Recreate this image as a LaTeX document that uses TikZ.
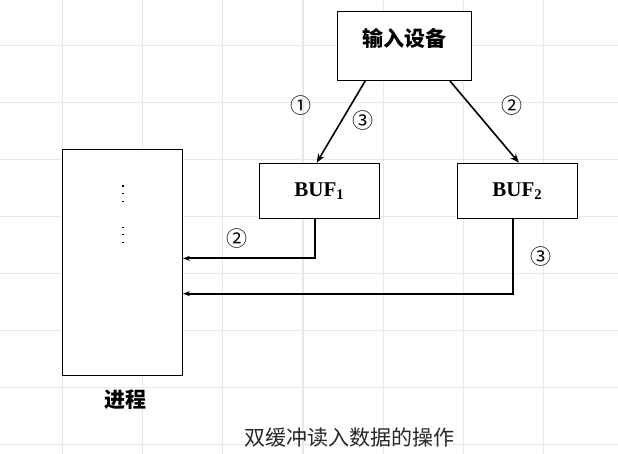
\documentclass[tikz,border=0pt]{standalone}
\usepackage{fontspec}
\setmainfont{Liberation Serif}
\newfontfamily\cjk{Noto Sans CJK SC}
\usetikzlibrary{arrows.meta}
\begin{document}
\begin{tikzpicture}[x=1pt,y=-1pt,
  box/.style={draw=black,line width=1.2pt,inner sep=0pt,fill=white},
  gridline/.style={draw={rgb,255:red,232;green,232;blue,232},line width=1.2pt},
  arr/.style={draw=black,line width=1.6pt,-{Stealth[length=9pt,width=7pt]}},
  arrb/.style={draw=black,line width=2pt,-{Stealth[length=7pt,width=5pt]}},
  cjkb/.style={font=\cjk\bfseries\fontsize{21}{24}\selectfont,inner sep=0pt},
  circ/.style={font=\cjk\fontsize{21}{24}\selectfont,inner sep=0pt},
  buf/.style={font=\bfseries\fontsize{21}{24}\selectfont,inner sep=0pt},
  dotbar/.style={draw=black,line width=1.3pt}
]
\useasboundingbox (0,0) rectangle (618,454);
\fill[white] (0,0) rectangle (618,454);
% grid
\foreach \gx in {62.3,142.5,222.7,302.9,383.1,463.3,543.5}
  \draw[gridline] (\gx,0) -- (\gx,454);
\foreach \gy in {45.3,102.3,159.3,216.3,273.3,330.3,387.3,444.3}
  \draw[gridline] (0,\gy) -- (618,\gy);
% boxes
\node[box,minimum width=134.4pt,minimum height=68.6pt] (dev) at (404.6,46) {};
\node[cjkb] (devtxt) at (404.6,38.5) {输入设备};
\node[box,minimum width=120pt,minimum height=55pt] (buf1) at (319.3,190.8) {};
\node[buf] (buf1txt) at (319.3,191) {BUF\textsubscript{1}};
\node[box,minimum width=120pt,minimum height=55pt] (buf2) at (517.3,190.8) {};
\node[buf] (buf2txt) at (517.3,191) {BUF\textsubscript{2}};
\node[box,minimum width=120pt,minimum height=226pt] (proc) at (122.3,262.3) {};
\node[cjkb] (proctxt) at (125.5,400) {进程};
% dots inside process
\foreach \dy in {186,193.3,201.3,227.3,234.7,242.3}
  \draw[dotbar] (121.6,\dy) -- (123.8,\dy);
% arrows
\draw[arr] ([xshift=28.4pt]dev.south west) -- ([xshift=58pt]buf1.north west);
\draw[arr] ([xshift=113.1pt]dev.south west) -- ([xshift=62.2pt]buf2.north west);
\draw[arrb] ([xshift=56.7pt]buf1.south west) |- ([yshift=-109.7pt]proc.north east);
\draw[arrb] ([xshift=56.7pt]buf2.south west) |- ([yshift=-145pt]proc.north east);
% labels
\node[circ] (c1) at (300.8,105.3) {①};
\node[circ] (c3a) at (362.6,120.7) {③};
\node[circ] (c2a) at (512.4,105.3) {②};
\node[circ] (c2b) at (237.3,239) {②};
\node[circ] (c3b) at (541.2,256.7) {③};
% caption
\node[font=\cjk\fontsize{21}{24}\selectfont,text={rgb,255:red,40;green,40;blue,40},inner sep=0pt] (cap) at (349.5,437.3) {双缓冲读入数据的操作};
\end{tikzpicture}
\end{document}
